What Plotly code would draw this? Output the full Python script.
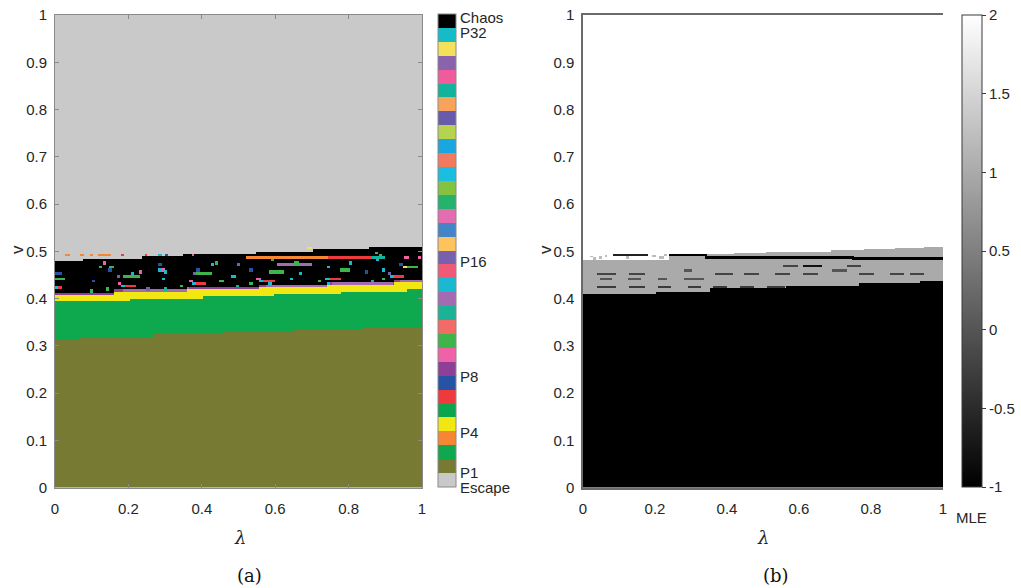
import numpy as np
import plotly.graph_objects as go

W, H = 1021, 588

# ---------------- categories (period labels) ----------------
PERIOD_NAMES = ["Escape"] + [f"P{i}" for i in range(1, 33)] + ["Chaos"]
PERIOD_COLORS = [
    "#c8c9c8",  # Escape
    "#767a32", "#0ea84f", "#f58634", "#f1e813", "#0ba54d", "#ec3a3d", "#2653a6", "#8e3f97",   # P1-P8
    "#f062a7", "#3db54a", "#f26b66", "#1ab395", "#a36bb1", "#1ab9d1", "#ef5a78", "#7760ae",   # P9-P16
    "#fdc35d", "#4385c6", "#e46cb0", "#23b36d", "#84c341", "#1bbde0", "#f47a5f", "#1aa7e0",   # P17-P24
    "#b5d34f", "#6a5aab", "#f7a35c", "#12b39b", "#ef5b9c", "#8a63ad", "#f5e05a", "#14bcc8",   # P25-P32
    "#000000",  # Chaos
]
CBAR_LABELS = ["Chaos", "P32", "P16", "P8", "P4", "P1", "Escape"]
CBAR_LABEL_Y = [17.5, 32.5, 261.5, 376, 432, 473, 487]   # pixel rows of the legend text

# ---------------- panel (a): region boundaries (staircases in lambda) ----------------
P1_TOP_LAM = [0, 0.068, 0.27, 0.46, 0.65, 0.84, 1.0]
P1_TOP_V = [0.314, 0.318, 0.324, 0.329, 0.334, 0.339]
P2_TOP_LAM = [0, 0.203, 0.404, 0.596, 0.782, 0.962, 1.0]
P2_TOP_V = [0.394, 0.399, 0.404, 0.409, 0.414, 0.419]
P4_TOP_LAM = [0, 0.16, 0.36, 0.555, 0.74, 0.923, 1.0]
P4_TOP_V = [0.408, 0.414, 0.419, 0.424, 0.429, 0.434]
P8_BAND = 0.005
P13_BAND_SEGMENTS = [(0.186, 0.363), (0.577, 0.740), (0.758, 0.922), (0.940, 1.0)]
CHAOS_TOP_LAM = [0, 0.077, 0.237, 0.347, 0.549, 0.705, 0.856, 1.0]
CHAOS_TOP_V = [0.479, 0.484, 0.489, 0.494, 0.499, 0.504, 0.509]

# periodic windows inside / at the edge of the chaotic band: (lam0, lam1, v, period)
WINDOWS_A = [
    (0.031, 0.037, 0.492, 3), (0.072, 0.078, 0.492, 3), (0.097, 0.103, 0.492, 3),
    (0.118, 0.152, 0.492, 3), (0.182, 0.188, 0.492, 6), (0.244, 0.252, 0.492, 6),
    (0.283, 0.289, 0.492, 14), (0.300, 0.306, 0.492, 7), (0.372, 0.378, 0.492, 9),
    (0.692, 0.698, 0.508, 31),
    (0.522, 0.745, 0.487, 3), (0.745, 0.867, 0.487, 6), (0.867, 0.899, 0.487, 28),
    (0.872, 0.878, 0.497, 10), (0.885, 0.891, 0.492, 10), (0.955, 0.961, 0.487, 9),
    (0.990, 0.996, 0.487, 9), (0.590, 0.596, 0.4826, 10), (0.878, 0.884, 0.4826, 14),
    (0.604, 0.699, 0.4723, 13),
    (0.0, 0.018, 0.4533, 7), (0.0, 0.027, 0.4427, 10), (0.0, 0.018, 0.4237, 6),
    (0.0, 0.006, 0.4237, 14),
    (0.097, 0.103, 0.4166, 10), (0.120, 0.126, 0.4674, 10), (0.133, 0.139, 0.4766, 9),
    (0.151, 0.157, 0.4674, 10), (0.147, 0.153, 0.4618, 7), (0.186, 0.232, 0.4476, 10),
    (0.210, 0.216, 0.4533, 14), (0.230, 0.236, 0.4568, 9), (0.182, 0.195, 0.4272, 14),
    (0.195, 0.218, 0.4272, 6), (0.102, 0.108, 0.4377, 7), (0.174, 0.180, 0.4321, 9),
    (0.142, 0.148, 0.4215, 10), (0.169, 0.175, 0.4476, 16), (0.283, 0.289, 0.4618, 14),
    (0.283, 0.289, 0.4723, 7), (0.292, 0.298, 0.4618, 9), (0.297, 0.303, 0.4568, 14),
    (0.292, 0.298, 0.4427, 14), (0.251, 0.257, 0.4215, 16), (0.297, 0.303, 0.4215, 28),
    (0.342, 0.348, 0.4272, 10), (0.376, 0.382, 0.4533, 16), (0.386, 0.427, 0.4533, 10),
    (0.387, 0.393, 0.4618, 7), (0.426, 0.432, 0.4723, 14), (0.438, 0.444, 0.4766, 10),
    (0.372, 0.386, 0.4321, 14), (0.386, 0.411, 0.4321, 6), (0.367, 0.373, 0.4377, 9),
    (0.451, 0.457, 0.4377, 10), (0.492, 0.498, 0.4272, 28), (0.483, 0.489, 0.4476, 14),
    (0.498, 0.504, 0.4723, 16), (0.531, 0.537, 0.4618, 7), (0.531, 0.537, 0.4321, 10),
    (0.586, 0.622, 0.4568, 10), (0.666, 0.672, 0.4533, 14), (0.655, 0.661, 0.4766, 10),
    (0.640, 0.646, 0.4427, 14), (0.557, 0.570, 0.4377, 14), (0.570, 0.597, 0.4377, 6),
    (0.551, 0.557, 0.4427, 9), (0.583, 0.589, 0.4321, 14), (0.717, 0.723, 0.4377, 10),
    (0.740, 0.746, 0.4674, 14), (0.736, 0.748, 0.4427, 14), (0.748, 0.777, 0.4427, 6),
    (0.740, 0.746, 0.4321, 14), (0.777, 0.804, 0.4618, 10), (0.801, 0.807, 0.4766, 14),
    (0.846, 0.852, 0.4568, 7), (0.860, 0.866, 0.4377, 28), (0.894, 0.900, 0.4618, 14),
    (0.892, 0.898, 0.4427, 10), (0.915, 0.925, 0.4476, 14), (0.925, 0.949, 0.4476, 6),
    (0.908, 0.914, 0.4533, 16), (0.951, 0.962, 0.4674, 31), (0.962, 0.986, 0.4674, 10),
    (0.939, 0.945, 0.4723, 7),
]

# ---------------- panel (b): maximal Lyapunov exponent ----------------
MLE_ESCAPE = 2.0
MLE_CHAOS = 1.0
MLE_PERIODIC = -1.0
MLE_SPECKLE = 1.2
BLACK_TOP_LAM = [0, 0.205, 0.353, 0.566, 0.769, 0.936, 1.0]
BLACK_TOP_V = [0.411, 0.416, 0.422, 0.427, 0.432, 0.4375]
GRAY_TOP_LAM = [0, 0.24, 0.33, 0.42, 0.51, 0.60, 0.69, 0.78, 0.87, 0.95, 1.0]
GRAY_TOP_V = [0.482, 0.493, 0.495, 0.497, 0.499, 0.501, 0.503, 0.505, 0.508, 0.511]
# dark stripes (periodic windows) in the chaotic band: (lam0, lam1, v, MLE)
WINDOWS_B = [
    (0.242, 0.344, 0.4915, -1.0), (0.344, 0.75, 0.488, -1.0), (0.75, 1.0, 0.485, -1.0),
    (0.084, 0.177, 0.4926, -0.6),
    (0.043, 0.089, 0.453, -0.2), (0.131, 0.172, 0.453, -0.2), (0.371, 0.413, 0.453, -0.2),
    (0.450, 0.487, 0.453, -0.2), (0.533, 0.575, 0.453, -0.2), (0.612, 0.649, 0.453, -0.2),
    (0.769, 0.806, 0.453, -0.2), (0.852, 0.890, 0.453, -0.2), (0.908, 0.945, 0.453, -0.2),
    (0.050, 0.080, 0.4434, 0.0), (0.125, 0.160, 0.4434, 0.0), (0.209, 0.230, 0.4434, 0.0),
    (0.283, 0.334, 0.4434, 0.0),
    (0.283, 0.302, 0.4601, 0.0), (0.695, 0.732, 0.4601, 0.0),
    (0.043, 0.089, 0.4248, -0.3), (0.131, 0.172, 0.4248, -0.3), (0.209, 0.242, 0.4248, -0.3),
    (0.292, 0.325, 0.4248, -0.3), (0.362, 0.399, 0.4248, -0.3), (0.436, 0.473, 0.4248, -0.3),
    (0.515, 0.557, 0.4248, -0.3), (0.589, 0.626, 0.4248, -0.3), (0.658, 0.695, 0.4248, -0.3),
    (0.732, 0.769, 0.4248, -0.3), (0.806, 0.843, 0.4248, -0.3), (0.876, 0.917, 0.4248, -0.3),
    (0.557, 0.594, 0.4707, -0.2), (0.612, 0.663, 0.4707, -0.8), (0.732, 0.769, 0.4707, -0.2),
]
SPECKLES_B = [
    (0.020, 0.028, 0.489), (0.045, 0.052, 0.487), (0.060, 0.066, 0.490),
    (0.195, 0.203, 0.490), (0.215, 0.222, 0.487), (0.030, 0.036, 0.485),
    (0.120, 0.128, 0.488), (0.226, 0.232, 0.492),
]

X_TICKS = [0, 0.2, 0.4, 0.6, 0.8, 1]
Y_TICKS = [0, 0.1, 0.2, 0.3, 0.4, 0.5, 0.6, 0.7, 0.8, 0.9, 1]
CB_TICKS = [-1, -0.5, 0, 0.5, 1, 1.5, 2]

# ---------------- sampling grid ----------------
NX, NY = 250, 400
DX, DY = 1.0 / NX, 1.0 / NY
lam = (np.arange(NX) + 0.5) * DX
vv = (np.arange(NY) + 0.5) * DY
V = vv[:, None]


def stair(breaks, levels):
    idx = np.clip(np.searchsorted(breaks, lam, side="right") - 1, 0, len(levels) - 1)
    return np.asarray(levels)[idx][None, :]


def paint(Z, lam0, lam1, vc, val, half=0.002):
    cols = ((np.arange(NX) + 1) * DX > lam0) & (np.arange(NX) * DX < lam1)
    rows = ((np.arange(NY) + 1) * DY > vc - half) & (np.arange(NY) * DY < vc + half)
    Z[np.ix_(rows, cols)] = val


# ---- panel (a) grid ----
ZA = np.zeros((NY, NX), dtype=int)
ZA[V < stair(CHAOS_TOP_LAM, CHAOS_TOP_V)] = 33
p4_top = stair(P4_TOP_LAM, P4_TOP_V)
ZA[V < p4_top + P8_BAND] = 8
for l0, l1 in P13_BAND_SEGMENTS:
    sel = (V < p4_top + P8_BAND) & (V >= p4_top) & (lam[None, :] >= l0) & (lam[None, :] < l1)
    ZA[sel] = 13
for l0, l1, vc, per in WINDOWS_A:
    paint(ZA, l0, l1, vc, per)
ZA[V < p4_top] = 4
ZA[V < stair(P2_TOP_LAM, P2_TOP_V)] = 2
ZA[V < stair(P1_TOP_LAM, P1_TOP_V)] = 1

# ---- panel (b) grid ----
ZB = np.full((NY, NX), MLE_ESCAPE)
ZB[V < stair(GRAY_TOP_LAM, GRAY_TOP_V)] = MLE_CHAOS
for l0, l1, vc in SPECKLES_B:
    paint(ZB, l0, l1, vc, MLE_SPECKLE, half=0.001)
for l0, l1, vc, val in WINDOWS_B:
    paint(ZB, l0, l1, vc, val, half=0.0012)
ZB[V < stair(BLACK_TOP_LAM, BLACK_TOP_V)] = MLE_PERIODIC

# ---- discrete colour scale ----
n_cat = len(PERIOD_COLORS)
cscale = []
for i, c in enumerate(PERIOD_COLORS):
    cscale.append([i / n_cat, c])
    cscale.append([(i + 1) / n_cat, c])


def px_x(p):
    return p / W


def px_y(p):
    return 1 - p / H


TICK_FONT = dict(family="Liberation Sans Narrow, Liberation Sans, Arial", size=15, color="#262626")

fig = go.Figure()
fig.add_trace(go.Heatmap(
    z=ZA, x=lam, y=vv, xaxis="x", yaxis="y",
    colorscale=cscale, zmin=-0.5, zmax=n_cat - 0.5,
    customdata=np.array(PERIOD_NAMES)[ZA], hovertemplate="λ=%{x:.3f}<br>v=%{y:.3f}<br>%{customdata}<extra></extra>",
    colorbar=dict(
        x=px_x(438), xanchor="left", xref="paper", y=px_y(487), yanchor="bottom", yref="paper",
        len=473, lenmode="pixels", thickness=18, thicknessmode="pixels",
        xpad=0, ypad=0, outlinecolor="#8a8a8a", outlinewidth=1,
        showticklabels=False, ticks="",
    ),
))
fig.add_trace(go.Heatmap(
    z=ZB, x=lam, y=vv, xaxis="x2", yaxis="y2",
    colorscale=[[0, "#000000"], [1, "#ffffff"]], zmin=-1, zmax=2,
    hovertemplate="λ=%{x:.3f}<br>v=%{y:.3f}<br>MLE=%{z}<extra></extra>",
    colorbar=dict(
        x=px_x(962), xanchor="left", xref="paper", y=px_y(487), yanchor="bottom", yref="paper",
        len=472, lenmode="pixels", thickness=20, thicknessmode="pixels",
        xpad=0, ypad=0, outlinecolor="#3a3a3a", outlinewidth=1,
        tickvals=CB_TICKS, ticktext=[f"{t:g}" for t in CB_TICKS],
        ticks="outside", ticklen=4, tickcolor="#3a3a3a", tickfont=TICK_FONT,
    ),
))

ydom = [px_y(487.5), px_y(15)]
common_x = dict(range=[0, 1], tickvals=X_TICKS, ticktext=[f"{t:g}" for t in X_TICKS],
                tickfont=TICK_FONT, showgrid=False, zeroline=False, automargin=False,
                ticklabelstandoff=7)
common_y = dict(range=[0, 1], tickvals=Y_TICKS, ticktext=[f"{t:g}" for t in Y_TICKS],
                tickfont=TICK_FONT, showgrid=False, zeroline=False, automargin=False,
                ticklabelstandoff=4)

fig.update_layout(
    width=W, height=H, template="none",
    margin=dict(l=0, r=0, t=0, b=0),
    paper_bgcolor="white", plot_bgcolor="white",
    showlegend=False,
    xaxis=dict(domain=[px_x(55), px_x(422)], anchor="y", showline=True, mirror="ticks",
               linecolor="#8a8a8a", linewidth=1, ticks="inside", ticklen=4, tickcolor="#8a8a8a",
               **common_x),
    yaxis=dict(domain=ydom, anchor="x", showline=True, mirror="ticks",
               linecolor="#8a8a8a", linewidth=1, ticks="inside", ticklen=4, tickcolor="#8a8a8a",
               **common_y),
    xaxis2=dict(domain=[px_x(583), px_x(943)], anchor="y2", showline=True, mirror=True,
                linecolor="#6a6a6a", linewidth=1.5, ticks="", **common_x),
    yaxis2=dict(domain=ydom, anchor="x2", showline=True, mirror=False,
                linecolor="#6a6a6a", linewidth=1.5, ticks="", **common_y),
)


def note(text, xp, yp, font, xanchor="center", angle=0):
    return dict(text=text, x=px_x(xp), y=px_y(yp), xref="paper", yref="paper",
                xanchor=xanchor, yanchor="middle", textangle=angle, showarrow=False, font=font)


ann = []
for label, yp in zip(CBAR_LABELS, CBAR_LABEL_Y):
    ann.append(note(label, 458, yp, TICK_FONT, xanchor="left"))
LAMBDA_FONT = dict(family="DejaVu Serif", size=18, color="#262626")
for xc in (240, 763):
    ann.append(note("<i>λ</i>", xc, 537, LAMBDA_FONT))
V_FONT = dict(family="Liberation Sans", size=17, color="#262626")
for xc in (18, 546):
    ann.append(note("v", xc, 250, V_FONT, angle=-90))
CAPTION_FONT = dict(family="DejaVu Serif", size=18, color="#111111")
ann.append(note("(a)", 249, 575, CAPTION_FONT))
ann.append(note("(b)", 776, 575, CAPTION_FONT))
ann.append(note("MLE", 971, 517, TICK_FONT))
fig.update_layout(annotations=ann)

fig.write_html("out.html")
